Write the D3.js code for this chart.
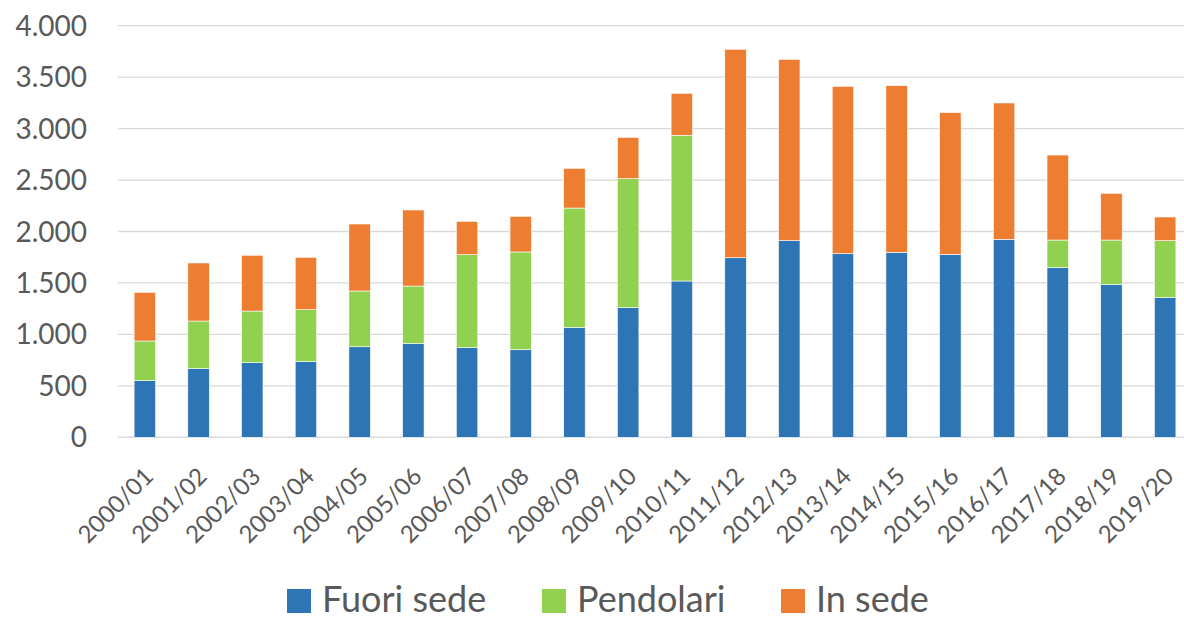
<!DOCTYPE html>
<html>
<head>
<meta charset="utf-8">
<script src="https://cdn.jsdelivr.net/npm/d3@7"></script>
<style>
  body { margin: 0; background: #fff; }
  svg { display: block; font-family: Lato, "Open Sans", sans-serif; }
</style>
</head>
<body>
<svg id="chart" width="1184" height="619"></svg>
<script>
var anni = ["2000/01","2001/02","2002/03","2003/04","2004/05","2005/06","2006/07","2007/08","2008/09","2009/10",
	"2010/11","2011/12","2012/13","2013/14","2014/15","2015/16","2016/17","2017/18","2018/19","2019/20"];
var fuoriSede = [550,667,725,735,880,910,871,851,1069,1260,1519,1745,1911,1784,1798,1778,1924,1648,1487,1357];
var pendolari = [386,463,502,505,542,560,904,950,1159,1253,1416,0,0,0,0,0,0,269,430,554];
var inSede = [473,564,542,509,651,739,324,347,386,402,408,2026,1762,1627,1619,1377,1325,826,454,230];
var serie = ["Fuori sede", "Pendolari", "In sede"];
var colori = ["#2e75b6", "#92d050", "#ed7d31"];
var yTicks = [0,500,1000,1500,2000,2500,3000,3500,4000];

var svg = d3.select("#chart");

var x = d3.scaleBand()
	.domain(anni)
	.range([118, 1192])
	.paddingInner(0.6)
	.paddingOuter(0.3);
var y = d3.scaleLinear()
	.domain([0, 4000])
	.range([437.3, 25.7]);

// gridlines
svg.append("g").selectAll("line")
	.data(yTicks)
	.enter()
	.append("line")
	.attr("x1", 118)
	.attr("x2", 1184)
	.attr("y1", function(d) { return y(d); })
	.attr("y2", function(d) { return y(d); })
	.style("stroke", "#d9d9d9")
	.style("stroke-width", function(d) { return d === 0 ? 1.6 : 1.3; });

// y labels
svg.append("g").selectAll("text")
	.data(yTicks)
	.enter()
	.append("text")
	.attr("x", 87)
	.attr("y", function(d) { return y(d); })
	.attr("dy", "0.36em")
	.attr("text-anchor", "end")
	.style("font-size", "28px")
	.style("fill", "#595959")
	.text(function(d) { return d3.format(",")(d).replace(/,/g, "."); });

// stacked bars
var righe = anni.map(function(a, i) {
	return { anno: a, "Fuori sede": fuoriSede[i], "Pendolari": pendolari[i], "In sede": inSede[i] };
});
var stack = d3.stack().keys(serie)(righe);

svg.append("g").selectAll("g")
	.data(stack)
	.enter()
	.append("g")
	.style("fill", function(d, i) { return colori[i]; })
	.selectAll("rect")
	.data(function(d) { return d; })
	.enter()
	.append("rect")
	.filter(function(d) { return d[1] > d[0]; })
	.attr("x", function(d) { return x(d.data.anno); })
	.attr("width", x.bandwidth())
	.attr("y", function(d) { return y(d[1]); })
	.attr("height", function(d) { return y(d[0]) - y(d[1]); })
	.style("stroke", "#fff")
	.style("stroke-width", 0.6);

// x labels
svg.append("g").selectAll("text")
	.data(anni)
	.enter()
	.append("text")
	.attr("transform", function(d) {
		return "translate(" + (x(d) + x.bandwidth() / 2 - 2) + ",466) rotate(-45)";
	})
	.attr("text-anchor", "end")
	.attr("dy", "0.7em")
	.style("font-size", "24px")
	.style("fill", "#595959")
	.text(function(d) { return d; });

// legend
var legX = [287, 542, 781];
var leg = svg.append("g").selectAll("g")
	.data(serie)
	.enter()
	.append("g")
	.attr("transform", function(d, i) { return "translate(" + legX[i] + ",589)"; });
leg.append("rect")
	.attr("width", 24)
	.attr("height", 24)
	.style("fill", function(d, i) { return colori[i]; });
leg.append("text")
	.attr("x", 35)
	.attr("y", 23)
	.style("font-size", "36px")
	.style("fill", "#595959")
	.text(function(d) { return d; });
</script>
</body>
</html>
